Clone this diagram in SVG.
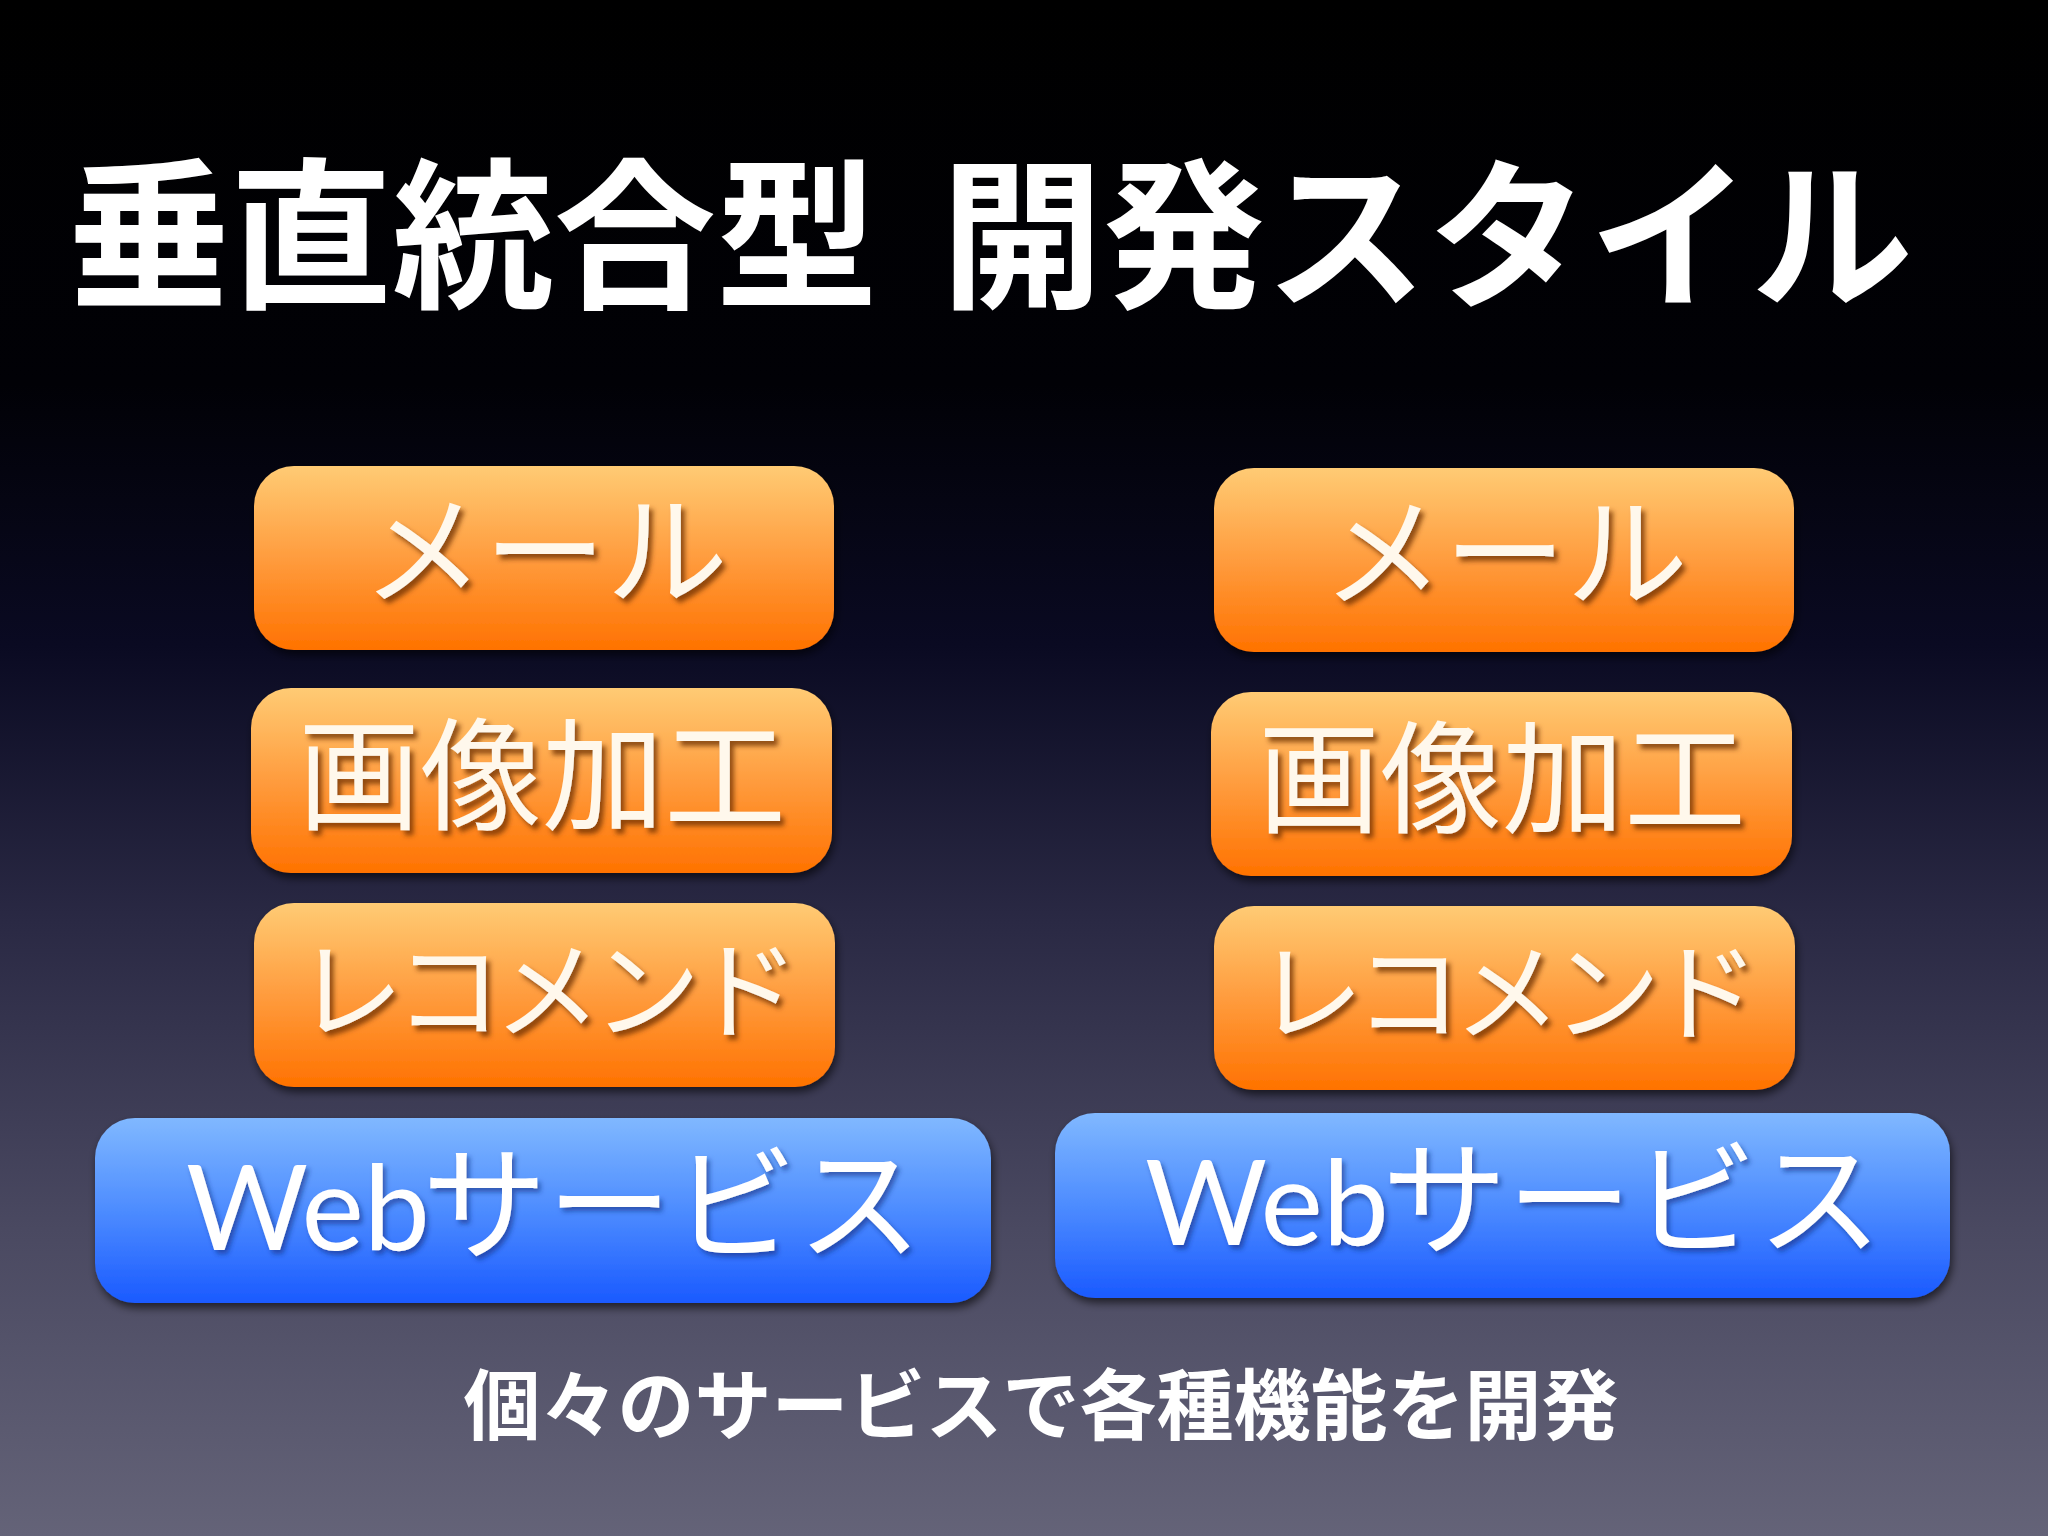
<svg xmlns="http://www.w3.org/2000/svg" width="2048" height="1536" viewBox="0 0 2048 1536">
  <defs>
    <linearGradient id="bg" x1="0" y1="0" x2="0" y2="1">
      <stop offset="0" stop-color="#000000"/>
      <stop offset="0.25" stop-color="#010106"/>
      <stop offset="0.42" stop-color="#0a0a22"/>
      <stop offset="0.6" stop-color="#2a2944"/>
      <stop offset="0.8" stop-color="#4a4961"/>
      <stop offset="1" stop-color="#646378"/>
    </linearGradient>
    <linearGradient id="orange" x1="0" y1="0" x2="0" y2="1">
      <stop offset="0" stop-color="#ffcb74"/>
      <stop offset="0.5" stop-color="#ff9c3e"/>
      <stop offset="1" stop-color="#ff7200"/>
    </linearGradient>
    <linearGradient id="blue" x1="0" y1="0" x2="0" y2="1">
      <stop offset="0" stop-color="#80b8ff"/>
      <stop offset="0.5" stop-color="#4d8cff"/>
      <stop offset="1" stop-color="#1a5aff"/>
    </linearGradient>
    <filter id="boxShadow" x="-10%" y="-10%" width="120%" height="130%">
      <feDropShadow dx="2" dy="5" stdDeviation="4" flood-color="#000000" flood-opacity="0.6"/>
    </filter>
    <filter id="txtShadowO" x="-10%" y="-20%" width="120%" height="140%">
      <feDropShadow dx="4" dy="5" stdDeviation="2.5" flood-color="#6a2e00" flood-opacity="0.75"/>
    </filter>
    <filter id="txtShadowB" x="-10%" y="-20%" width="120%" height="140%">
      <feDropShadow dx="3" dy="4" stdDeviation="2.5" flood-color="#0a2a80" flood-opacity="0.6"/>
    </filter>
  </defs>
  <style>
    .title { font-family: "Noto Sans CJK JP", "Noto Sans", sans-serif; font-weight: 700; font-size: 162px; fill: #ffffff; }
    .caption { font-family: "Noto Sans CJK JP", "Noto Sans", sans-serif; font-weight: 700; font-size: 77px; fill: #ffffff; }
    .obox { fill: url(#orange); filter: url(#boxShadow); }
    .bbox { fill: url(#blue); filter: url(#boxShadow); }
    .olabel { font-family: "Noto Sans CJK JP", "Noto Sans", sans-serif; font-weight: 400; font-size: 122px; fill: #fff8ec; text-anchor: middle; filter: url(#txtShadowO); }
    .rlabel { font-family: "Noto Sans CJK JP", "Noto Sans", sans-serif; font-weight: 400; font-size: 108px; letter-spacing: -9px; fill: #fff8ec; text-anchor: middle; filter: url(#txtShadowO); }
    .blabel { font-family: "Noto Sans CJK JP", "Noto Sans", sans-serif; font-weight: 400; font-size: 125px; fill: #ffffff; filter: url(#txtShadowB); }
    .latin { font-family: "Lato", "Open Sans", sans-serif; font-size: 118px; font-weight: 400; }
  </style>

  <rect x="0" y="0" width="2048" height="1536" fill="url(#bg)"/>

  <g id="title">
    <text class="title" x="68" y="296">垂直統合型</text>
    <text class="title" x="941" y="296">開発スタイル</text>
  </g>

  <g id="left-mail">
    <rect class="obox" x="254" y="466" width="580" height="184" rx="40" ry="40"/>
    <text class="olabel" x="545" y="595">メール</text>
  </g>
  <g id="left-image">
    <rect class="obox" x="251" y="688" width="581" height="185" rx="40" ry="40"/>
    <text class="olabel" x="542" y="820">画像加工</text>
  </g>
  <g id="left-recommend">
    <rect class="obox" x="254" y="903" width="581" height="184" rx="40" ry="40"/>
    <text class="rlabel" x="543" y="1030">レコメンド</text>
  </g>
  <g id="left-web">
    <rect class="bbox" x="95" y="1118" width="896" height="185" rx="40" ry="40"/>
    <text class="blabel" y="1250"><tspan class="latin" x="186">Web</tspan><tspan x="422">サービス</tspan></text>
  </g>

  <g id="right-mail">
    <rect class="obox" x="1214" y="468" width="580" height="184" rx="40" ry="40"/>
    <text class="olabel" x="1505" y="597">メール</text>
  </g>
  <g id="right-image">
    <rect class="obox" x="1211" y="692" width="581" height="184" rx="40" ry="40"/>
    <text class="olabel" x="1502" y="823">画像加工</text>
  </g>
  <g id="right-recommend">
    <rect class="obox" x="1214" y="906" width="581" height="184" rx="40" ry="40"/>
    <text class="rlabel" x="1503" y="1032">レコメンド</text>
  </g>
  <g id="right-web">
    <rect class="bbox" x="1055" y="1113" width="895" height="185" rx="40" ry="40"/>
    <text class="blabel" y="1245"><tspan class="latin" x="1145">Web</tspan><tspan x="1382">サービス</tspan></text>
  </g>

  <g id="connectors"/>

  <g id="caption">
    <text class="caption" x="1041" y="1434" text-anchor="middle">個々のサービスで各種機能を開発</text>
  </g>
</svg>
